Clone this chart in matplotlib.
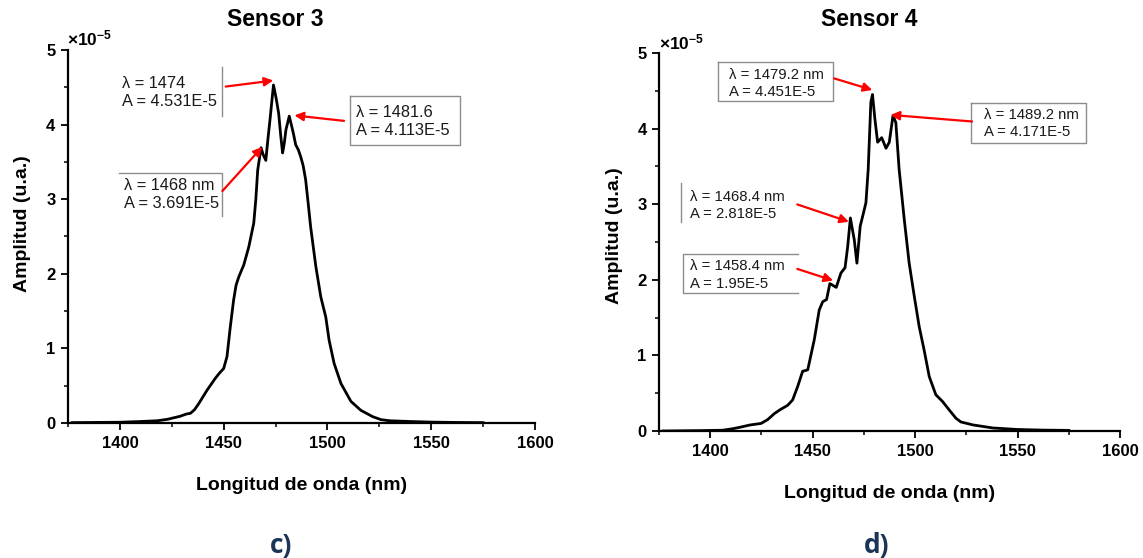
import matplotlib
matplotlib.use("Agg")
import matplotlib.pyplot as plt
from matplotlib.ticker import MultipleLocator

plt.rcParams['font.family'] = ['Liberation Sans', 'DejaVu Sans']
plt.rcParams['mathtext.fontset'] = 'custom'
plt.rcParams['mathtext.rm'] = 'Liberation Sans'
plt.rcParams['mathtext.bf'] = 'Liberation Sans:bold'

# ---------------- data (amplitude in units of 1e-5) ----------------
s3_wl = [1377, 1390, 1400, 1410, 1418, 1423, 1426, 1429, 1432, 1434, 1436, 1438, 1440,
         1442, 1444, 1446, 1448, 1450, 1451.6, 1453.2, 1454.8, 1456, 1457.3, 1459.7,
         1462.1, 1464.5, 1465.5, 1466.4, 1468, 1469, 1470.3, 1471.3, 1472.3, 1474,
         1475.3, 1476.5, 1477.5, 1478.4, 1479.2, 1480, 1481.6, 1482.6, 1483.6, 1484.7,
         1486, 1487.1, 1488.3, 1489.5, 1490.7, 1491.9, 1494.4, 1496.8, 1499.2, 1500.8,
         1503.2, 1506.5, 1511.3, 1516.1, 1521.8, 1525.8, 1530, 1540, 1550, 1560, 1575]
s3_amp = [0.005, 0.008, 0.01, 0.02, 0.03, 0.05, 0.07, 0.09, 0.12, 0.13, 0.18, 0.26, 0.35,
          0.44, 0.52, 0.60, 0.67, 0.73, 0.89, 1.29, 1.65, 1.85, 1.96, 2.12,
          2.36, 2.68, 3.0, 3.39, 3.691, 3.60, 3.52, 3.80, 4.06, 4.531,
          4.35, 4.15, 3.85, 3.62, 3.75, 3.93, 4.113, 4.0, 3.88, 3.73,
          3.66, 3.57, 3.45, 3.26, 2.95, 2.63, 2.10, 1.69, 1.42, 1.11,
          0.80, 0.53, 0.29, 0.17, 0.085, 0.045, 0.03, 0.02, 0.012, 0.008, 0.005]

s4_wl = [1377, 1395, 1406, 1411, 1414.6, 1419.5, 1424.8, 1428, 1431.3, 1434, 1437.8,
         1440.2, 1442.7, 1445.1, 1446.5, 1447.6, 1450.8, 1453.2, 1454.9, 1456.8, 1458.4,
         1461.5, 1463.8, 1465.8, 1467.1, 1468.4, 1470.3, 1471.6, 1473.2, 1474.4, 1476,
         1477.1, 1478.4, 1479.2, 1480.4, 1481.7, 1483.7, 1485.8, 1487.4, 1489.2, 1490.6,
         1492.2, 1494.7, 1497.1, 1499.6, 1502, 1504.4, 1506.9, 1510.1, 1513.4, 1516.6,
         1519.9, 1522.3, 1528.3, 1538, 1550, 1562, 1575]
s4_amp = [0.0, 0.005, 0.01, 0.03, 0.05, 0.08, 0.10, 0.15, 0.23, 0.28, 0.34,
          0.41, 0.59, 0.79, 0.80, 0.81, 1.21, 1.60, 1.71, 1.74, 1.95,
          1.90, 2.09, 2.16, 2.44, 2.818, 2.53, 2.22, 2.71, 2.84, 3.02,
          3.46, 4.35, 4.451, 4.12, 3.82, 3.88, 3.74, 3.82, 4.171, 4.08,
          3.46, 2.80, 2.22, 1.78, 1.38, 1.07, 0.72, 0.48, 0.39, 0.28,
          0.17, 0.12, 0.08, 0.04, 0.02, 0.012, 0.008]

titles = ["Sensor 3", "Sensor 4"]
panel_labels = ["c)", "d)"]
x_ticks = [1400, 1450, 1500, 1550, 1600]
y_ticks = [0, 1, 2, 3, 4, 5]

s3_notes = ["λ = 1474\nA = 4.531E-5", "λ = 1481.6\nA = 4.113E-5", "λ = 1468 nm\nA = 3.691E-5"]
s3_peaks = [(1474, 4.531), (1481.6, 4.113), (1468, 3.691)]
s4_notes = ["λ = 1479.2 nm\nA = 4.451E-5", "λ = 1489.2 nm\nA = 4.171E-5",
            "λ = 1468.4 nm\nA = 2.818E-5", "λ = 1458.4 nm\nA = 1.95E-5"]
s4_peaks = [(1479.2, 4.451), (1489.2, 4.171), (1468.4, 2.818), (1458.4, 1.95)]

W, H = 1143, 558
fig = plt.figure(figsize=(W / 100, H / 100), dpi=100)

ax1 = fig.add_axes([68 / W, 1 - 423 / H, 467 / W, 373 / H])
ax2 = fig.add_axes([659 / W, 1 - 431 / H, 461 / W, 378 / H])

for ax, wl, amp in [(ax1, s3_wl, s3_amp), (ax2, s4_wl, s4_amp)]:
    ax.plot(wl, amp, color='black', lw=2.0, solid_joinstyle='round')
    ax.set_xlim(1375, 1600)
    ax.set_ylim(0, 5)
    ax.set_xticks(x_ticks)
    ax.set_yticks(y_ticks)
    ax.xaxis.set_minor_locator(MultipleLocator(25))
    ax.yaxis.set_minor_locator(MultipleLocator(0.5))
    for s in ['top', 'right']:
        ax.spines[s].set_visible(False)
    for s in ['left', 'bottom']:
        ax.spines[s].set_linewidth(1.6)
    ax.tick_params(which='major', direction='out', length=5, width=1.3, labelsize=12, pad=4)
    ax.tick_params(which='minor', direction='out', length=3, width=1.1)
    for lab in ax.get_xticklabels() + ax.get_yticklabels():
        lab.set_fontweight('bold')
    ax.set_xlabel("Longitud de onda (nm)", fontsize=14, fontweight='bold', labelpad=19)
    ax.set_ylabel("Amplitud (u.a.)", fontsize=14, fontweight='bold')

ax1.yaxis.set_label_coords(-0.080, 0.534)
ax2.yaxis.set_label_coords(-0.078, 0.516)

# titles, multipliers, panel labels
fig.text(275 / W, 1 - 19 / H, titles[0], ha='center', va='center', fontsize=16.5, fontweight='bold')
fig.text(869 / W, 1 - 19 / H, titles[1], ha='center', va='center', fontsize=16.5, fontweight='bold')
fig.text(67 / W, 1 - 45 / H, r'$\mathbf{\times10^{-5}}$', ha='left', va='baseline', fontsize=12.5)
fig.text(659 / W, 1 - 49 / H, r'$\mathbf{\times10^{-5}}$', ha='left', va='baseline', fontsize=12.5)
fig.text(281 / W, 1 - 545 / H, panel_labels[0], ha='center', va='center', fontsize=19,
         fontweight='bold', color='#1b3556', family=['Open Sans', 'DejaVu Sans'])
fig.text(877 / W, 1 - 545 / H, panel_labels[1], ha='center', va='center', fontsize=19,
         fontweight='bold', color='#1b3556', family=['Open Sans', 'DejaVu Sans'])

arrow = dict(arrowstyle='-|>', color='red', lw=1.6, mutation_scale=13, shrinkA=0, shrinkB=0)
txt3 = dict(fontsize=11.8, color='#1a1a1a', ha='left', va='center', linespacing=1.22)
txt4 = dict(fontsize=10.7, color='#1a1a1a', ha='left', va='center', linespacing=1.32)
frame_kw = dict(color='#8c8c8c', lw=1.0, clip_on=False)

# ---- Sensor 3 annotations ----
ax1.text(1400.9, 4.43, s3_notes[0], **txt3)
ax1.plot([1449.4, 1449.4], [4.77, 4.12], **frame_kw)
ax1.annotate('', xy=(s3_peaks[0][0] - 0.1, s3_peaks[0][1] + 0.06), xytext=(1451, 4.51), arrowprops=arrow)

ax1.text(1513.8, 4.04, s3_notes[1], **txt3)
ax1.plot([1510.9, 1563.9, 1563.9, 1510.9, 1510.9], [4.38, 4.38, 3.73, 3.73, 4.38], **frame_kw)
ax1.annotate('', xy=(s3_peaks[1][0] + 2.5, s3_peaks[1][1] + 0.01), xytext=(1508, 4.05), arrowprops=arrow)

ax1.text(1402, 3.06, s3_notes[2], **txt3)
ax1.plot([1399.7, 1449.1, 1449.1], [3.355, 3.355, 2.78], **frame_kw)
ax1.annotate('', xy=(s3_peaks[2][0] + 0.6, s3_peaks[2][1] + 0.01), xytext=(1449.4, 3.11), arrowprops=arrow)

# ---- Sensor 4 annotations ----
ax2.text(1409.3, 4.595, s4_notes[0], **txt4)
ax2.plot([1403.6, 1459.7, 1459.7, 1403.6, 1403.6], [4.877, 4.877, 4.359, 4.359, 4.877], **frame_kw)
ax2.annotate('', xy=(s4_peaks[0][0] - 0.1, s4_peaks[0][1] + 0.06), xytext=(1460.5, 4.664), arrowprops=arrow)

ax2.text(1533.7, 4.069, s4_notes[1], **txt4)
ax2.plot([1527.2, 1583.6, 1583.6, 1527.2, 1527.2], [4.333, 4.333, 3.806, 3.806, 4.333], **frame_kw)
ax2.annotate('', xy=(s4_peaks[1][0] - 1.2, s4_peaks[1][1] + 0.01), xytext=(1527.8, 4.094), arrowprops=arrow)

ax2.text(1390.1, 2.98, s4_notes[2], **txt4)
ax2.plot([1385.6, 1385.6], [3.276, 2.763], **frame_kw)
ax2.annotate('', xy=(s4_peaks[2][0] - 0.7, s4_peaks[2][1] - 0.05), xytext=(1442.5, 2.997), arrowprops=arrow)

ax2.text(1390.1, 2.065, s4_notes[3], **txt4)
ax2.plot([1442.7, 1386.6, 1386.6, 1442.7], [2.347, 2.347, 1.826, 1.826], **frame_kw)
ax2.annotate('', xy=(s4_peaks[3][0] + 1.6, s4_peaks[3][1] + 0.04), xytext=(1442.5, 2.144), arrowprops=arrow)

fig.savefig("out.png", dpi=100)
